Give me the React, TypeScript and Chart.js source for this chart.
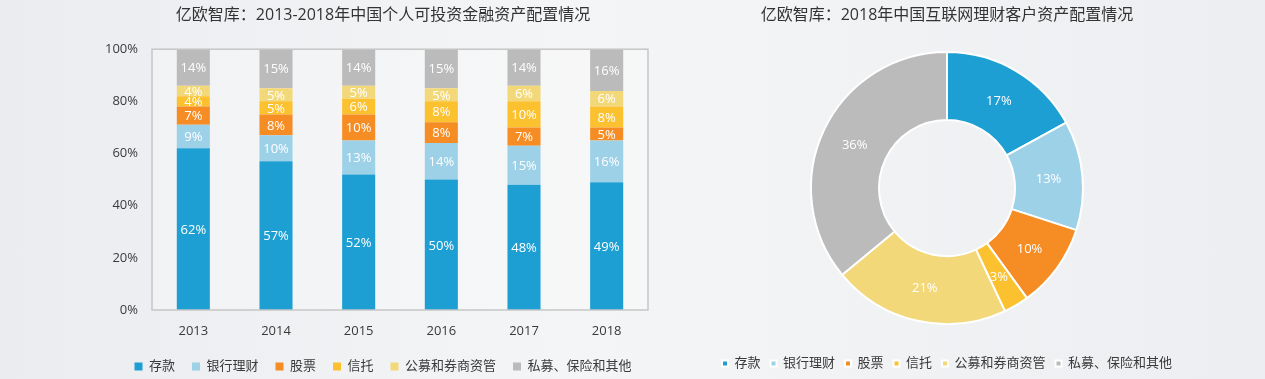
import React, { useEffect, useRef } from "react";
import { Chart, registerables } from "chart.js";

Chart.register(...registerables);

// ---- data ----
const years = ["2013", "2014", "2015", "2016", "2017", "2018"];
const deposits = [62, 57, 52, 50, 48, 49];
const bankWealth = [9, 10, 13, 14, 15, 16];
const stocks = [7, 8, 10, 8, 7, 5];
const trusts = [4, 5, 6, 8, 10, 8];
const publicFunds = [4, 5, 5, 5, 6, 6];
const others = [14, 15, 14, 15, 14, 16];
const seriesNames = ["存款", "银行理财", "股票", "信托", "公募和券商资管", "私募、保险和其他"];
const seriesColors = ["#1e9fd3", "#9dd1e8", "#f68d24", "#fbc12e", "#f3d87a", "#bbbbbb"];
const yTickMax = 100;
const yTickStep = 20;
const donutValues = [17, 13, 10, 3, 21, 36];
const leftTitle = "亿欧智库：2013-2018年中国个人可投资金融资产配置情况";
const rightTitle = "亿欧智库：2018年中国互联网理财客户资产配置情况";

const FONT = "'Open Sans', 'Noto Sans CJK SC', sans-serif";
const TEXT = "#3a3a3a";

const valueLabels = {
  id: "valueLabels",
  afterDatasetsDraw(chart: any) {
    const ctx = chart.ctx;
    ctx.save();
    ctx.fillStyle = "#ffffff";
    ctx.font = `13px ${FONT}`;
    ctx.textAlign = "center";
    ctx.textBaseline = "middle";
    chart.data.datasets.forEach((ds: any, di: number) => {
      const meta = chart.getDatasetMeta(di);
      meta.data.forEach((el: any, i: number) => {
        const v = ds.data[i];
        let x: number, y: number;
        if (chart.config.type === "bar") {
          x = el.x;
          y = (el.y + el.base) / 2;
        } else {
          const p = el.tooltipPosition();
          x = p.x;
          y = p.y;
        }
        ctx.fillText(v + "%", x, y + 1);
      });
    });
    ctx.restore();
  },
};

const plotBox = {
  id: "plotBox",
  beforeDatasetsDraw(chart: any) {
    const { left, top, right, bottom } = chart.chartArea;
    const ctx = chart.ctx;
    ctx.save();
    ctx.fillStyle = "rgba(255,255,255,0.25)";
    ctx.fillRect(left, top, right - left, bottom - top);
    ctx.restore();
  },
  afterDatasetsDraw(chart: any) {
    const { left, top, right, bottom } = chart.chartArea;
    const ctx = chart.ctx;
    ctx.save();
    ctx.strokeStyle = "#c6c6c6";
    ctx.lineWidth = 1.5;
    ctx.strokeRect(left, top, right - left, bottom - top);
    ctx.restore();
  },
};

function BarChart() {
  const ref = useRef<HTMLCanvasElement>(null);
  useEffect(() => {
    const seriesData = [deposits, bankWealth, stocks, trusts, publicFunds, others];
    const chart = new Chart(ref.current as HTMLCanvasElement, {
      type: "bar",
      data: {
        labels: years,
        datasets: seriesData.map((d, i) => ({
          label: seriesNames[i],
          data: d,
          backgroundColor: seriesColors[i],
          borderWidth: 0,
          barPercentage: 0.4,
          categoryPercentage: 1,
        })),
      },
      options: {
        responsive: false,
        animation: false,
        devicePixelRatio: 1,
        layout: { padding: 0 },
        scales: {
          x: {
            stacked: true,
            grid: { display: false, drawTicks: false },
            border: { display: false },
            ticks: { color: TEXT, font: { size: 13, family: FONT }, padding: 13 },
            afterFit: (s: any) => {
              s.height = 33;
            },
          },
          y: {
            stacked: true,
            min: 0,
            max: yTickMax,
            grid: { display: false, drawTicks: false },
            border: { display: false },
            ticks: {
              stepSize: yTickStep,
              color: TEXT,
              font: { size: 13, family: FONT },
              padding: 14,
              callback: (v: any) => v + "%",
            },
            afterFit: (s: any) => {
              s.width = 152;
            },
          },
          yRightSpace: {
            type: "linear",
            position: "right",
            display: true,
            grid: { display: false, drawTicks: false },
            border: { display: false },
            ticks: { display: false },
            afterFit: (s: any) => {
              s.width = 118;
            },
          },
        },
        plugins: {
          title: {
            display: true,
            text: leftTitle,
            color: "#333333",
            font: { size: 16, family: FONT, weight: "normal" },
            padding: { top: 6, bottom: 24 },
          },
          legend: {
            position: "bottom",
            labels: {
              boxWidth: 8,
              boxHeight: 8,
              padding: 17,
              color: TEXT,
              font: { size: 13, family: FONT },
            },
          },
          tooltip: { enabled: false },
        },
      },
      plugins: [plotBox, valueLabels],
    } as any);
    return () => chart.destroy();
  }, []);
  return (
    <canvas
      ref={ref}
      width={766}
      height={383}
      style={{ position: "absolute", left: 0, top: 0, width: 766, height: 383 }}
    />
  );
}

function DonutChart() {
  const ref = useRef<HTMLCanvasElement>(null);
  useEffect(() => {
    const chart = new Chart(ref.current as HTMLCanvasElement, {
      type: "doughnut",
      data: {
        labels: seriesNames,
        datasets: [
          {
            data: donutValues,
            backgroundColor: seriesColors,
            borderColor: "#ffffff",
            borderWidth: 2,
            radius: 136,
            cutout: "50%",
          },
        ],
      },
      options: {
        responsive: false,
        animation: false,
        devicePixelRatio: 1,
        layout: { padding: 0 },
        plugins: {
          title: {
            display: true,
            text: rightTitle,
            color: "#333333",
            font: { size: 16, family: FONT, weight: "normal" },
            padding: { top: 6, bottom: 4 },
          },
          legend: {
            position: "bottom",
            labels: {
              boxWidth: 6,
              boxHeight: 6,
              padding: 10,
              color: TEXT,
              font: { size: 13, family: FONT },
            },
          },
          tooltip: { enabled: false },
        },
      },
      plugins: [valueLabels],
    } as any);
    return () => chart.destroy();
  }, []);
  return (
    <canvas
      ref={ref}
      width={520}
      height={380}
      style={{ position: "absolute", left: 687, top: 0, width: 520, height: 380 }}
    />
  );
}

export default function App() {
  return (
    <div
      style={{
        position: "absolute",
        left: 0,
        top: 0,
        width: 1265,
        height: 379,
        overflow: "hidden",
        background: "linear-gradient(90deg, #eaecf0 0%, #f4f5f6 45%, #f1f2f4 70%, #eceef1 100%)",
      }}
    >
      <BarChart />
      <DonutChart />
    </div>
  );
}
